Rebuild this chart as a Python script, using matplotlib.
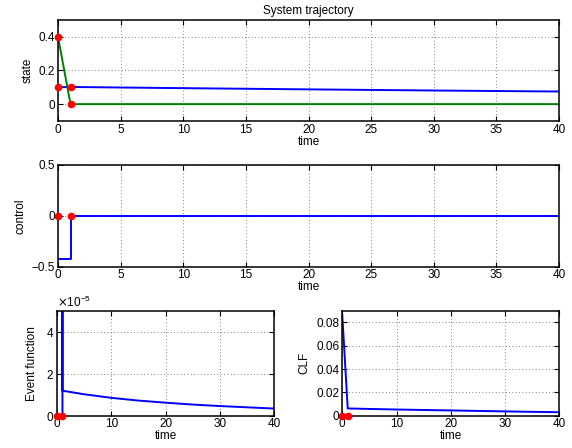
import matplotlib
matplotlib.use("Agg")
import matplotlib.pyplot as plt
from matplotlib.ticker import ScalarFormatter

plt.rcParams["font.family"] = ["Liberation Sans", "DejaVu Sans"]
plt.rcParams["font.size"] = 8.5
plt.rcParams["axes.unicode_minus"] = True

# state trajectory
t_state = [0, 1, 5, 10, 15, 20, 25, 30, 35, 40]
x1 = [0.100, 0.102, 0.0988, 0.0949, 0.0913, 0.0877, 0.0843, 0.0810, 0.0779, 0.0750]
x2 = [0.400, 0.0, 0.0, 0.0, 0.0, 0.0, 0.0, 0.0, 0.0, 0.0]

# control (piecewise constant)
t_ctrl = [0, 1, 1, 40]
u = [-0.42, -0.42, 0.0, 0.0]

# event function
t_evt = [0, 1, 1, 1, 5, 10, 15, 20, 25, 30, 35, 40]
evt = [0.0, 0.0, 9e-5, 1.19e-5, 1.02e-5, 0.85e-5, 0.72e-5, 0.62e-5,
       0.53e-5, 0.46e-5, 0.40e-5, 0.34e-5]

# control Lyapunov function
t_clf = [0, 1, 5, 10, 15, 20, 25, 30, 35, 40]
clf = [0.086, 0.0062, 0.0058, 0.0053, 0.0049, 0.0045, 0.0041, 0.0037, 0.0033, 0.0030]

# event times
t_events = [0, 1]
x1_events = [0.100, 0.102]
x2_events = [0.400, 0.0]

fig = plt.figure(figsize=(5.72, 4.48), dpi=100)

ax1 = fig.add_axes([0.1014, 0.730, 0.876, 0.2254])
ax2 = fig.add_axes([0.1014, 0.4047, 0.876, 0.227])
ax3 = fig.add_axes([0.0997, 0.0721, 0.3794, 0.2344])
ax4 = fig.add_axes([0.5984, 0.0721, 0.3794, 0.2344])

lw = 1.4
ms = 4.5

ax1.plot(t_state, x1, color="blue", lw=lw)
ax1.plot(t_state, x2, color="green", lw=lw)
ax1.plot(t_events, x1_events, "o", color="red", ms=ms, clip_on=False, zorder=5)
ax1.plot(t_events, x2_events, "o", color="red", ms=ms, clip_on=False, zorder=5)
ax1.set_xlim(0, 40)
ax1.set_ylim(-0.1, 0.5)
ax1.set_yticks([0, 0.2, 0.4])
ax1.set_yticklabels(["0", "0.2", "0.4"])
ax1.set_xticks(range(0, 41, 5))
ax1.set_ylabel("state", labelpad=4)
ax1.set_xlabel("time", labelpad=0)
ax1.set_title("System trajectory", fontsize=8.5, pad=4)

ax2.plot(t_ctrl, u, color="blue", lw=lw)
ax2.plot(t_events, [0, 0], "o", color="red", ms=ms, clip_on=False, zorder=5)
ax2.set_xlim(0, 40)
ax2.set_ylim(-0.5, 0.5)
ax2.set_yticks([-0.5, 0, 0.5])
ax2.set_yticklabels(["\u22120.5", "0", "0.5"])
ax2.set_xticks(range(0, 41, 5))
ax2.set_ylabel("control", labelpad=4)
ax2.set_xlabel("time", labelpad=0)

ax3.plot(t_evt, evt, color="blue", lw=lw)
ax3.plot(t_events, [0, 0], "o", color="red", ms=ms, clip_on=False, zorder=5)
ax3.set_xlim(0, 40)
ax3.set_ylim(0, 5e-5)
ax3.set_yticks([0, 2e-5, 4e-5])
fmt = ScalarFormatter(useMathText=True)
fmt.set_powerlimits((0, 0))
ax3.yaxis.set_major_formatter(fmt)
ax3.set_xticks([0, 10, 20, 30, 40])
ax3.set_ylabel("Event function", labelpad=6)
ax3.set_xlabel("time", labelpad=0)

ax4.plot(t_clf, clf, color="blue", lw=lw)
ax4.plot(t_events, [0, 0], "o", color="red", ms=ms, clip_on=False, zorder=5)
ax4.set_xlim(0, 40)
ax4.set_ylim(0, 0.09)
ax4.set_yticks([0, 0.02, 0.04, 0.06, 0.08])
ax4.set_yticklabels(["0", "0.02", "0.04", "0.06", "0.08"])
ax4.set_xticks([0, 10, 20, 30, 40])
ax4.set_ylabel("CLF", labelpad=4)
ax4.set_xlabel("time", labelpad=0)

for ax in (ax1, ax2, ax3, ax4):
    ax.grid(True, linestyle=(0, (1, 3)), color="0.35", linewidth=0.6)
    ax.tick_params(direction="in", top=True, right=True, length=3.5,
                   width=0.8, pad=2, labelsize=8.5)
    for sp in ax.spines.values():
        sp.set_linewidth(1.1)

fig.savefig("out.png", dpi=100)
